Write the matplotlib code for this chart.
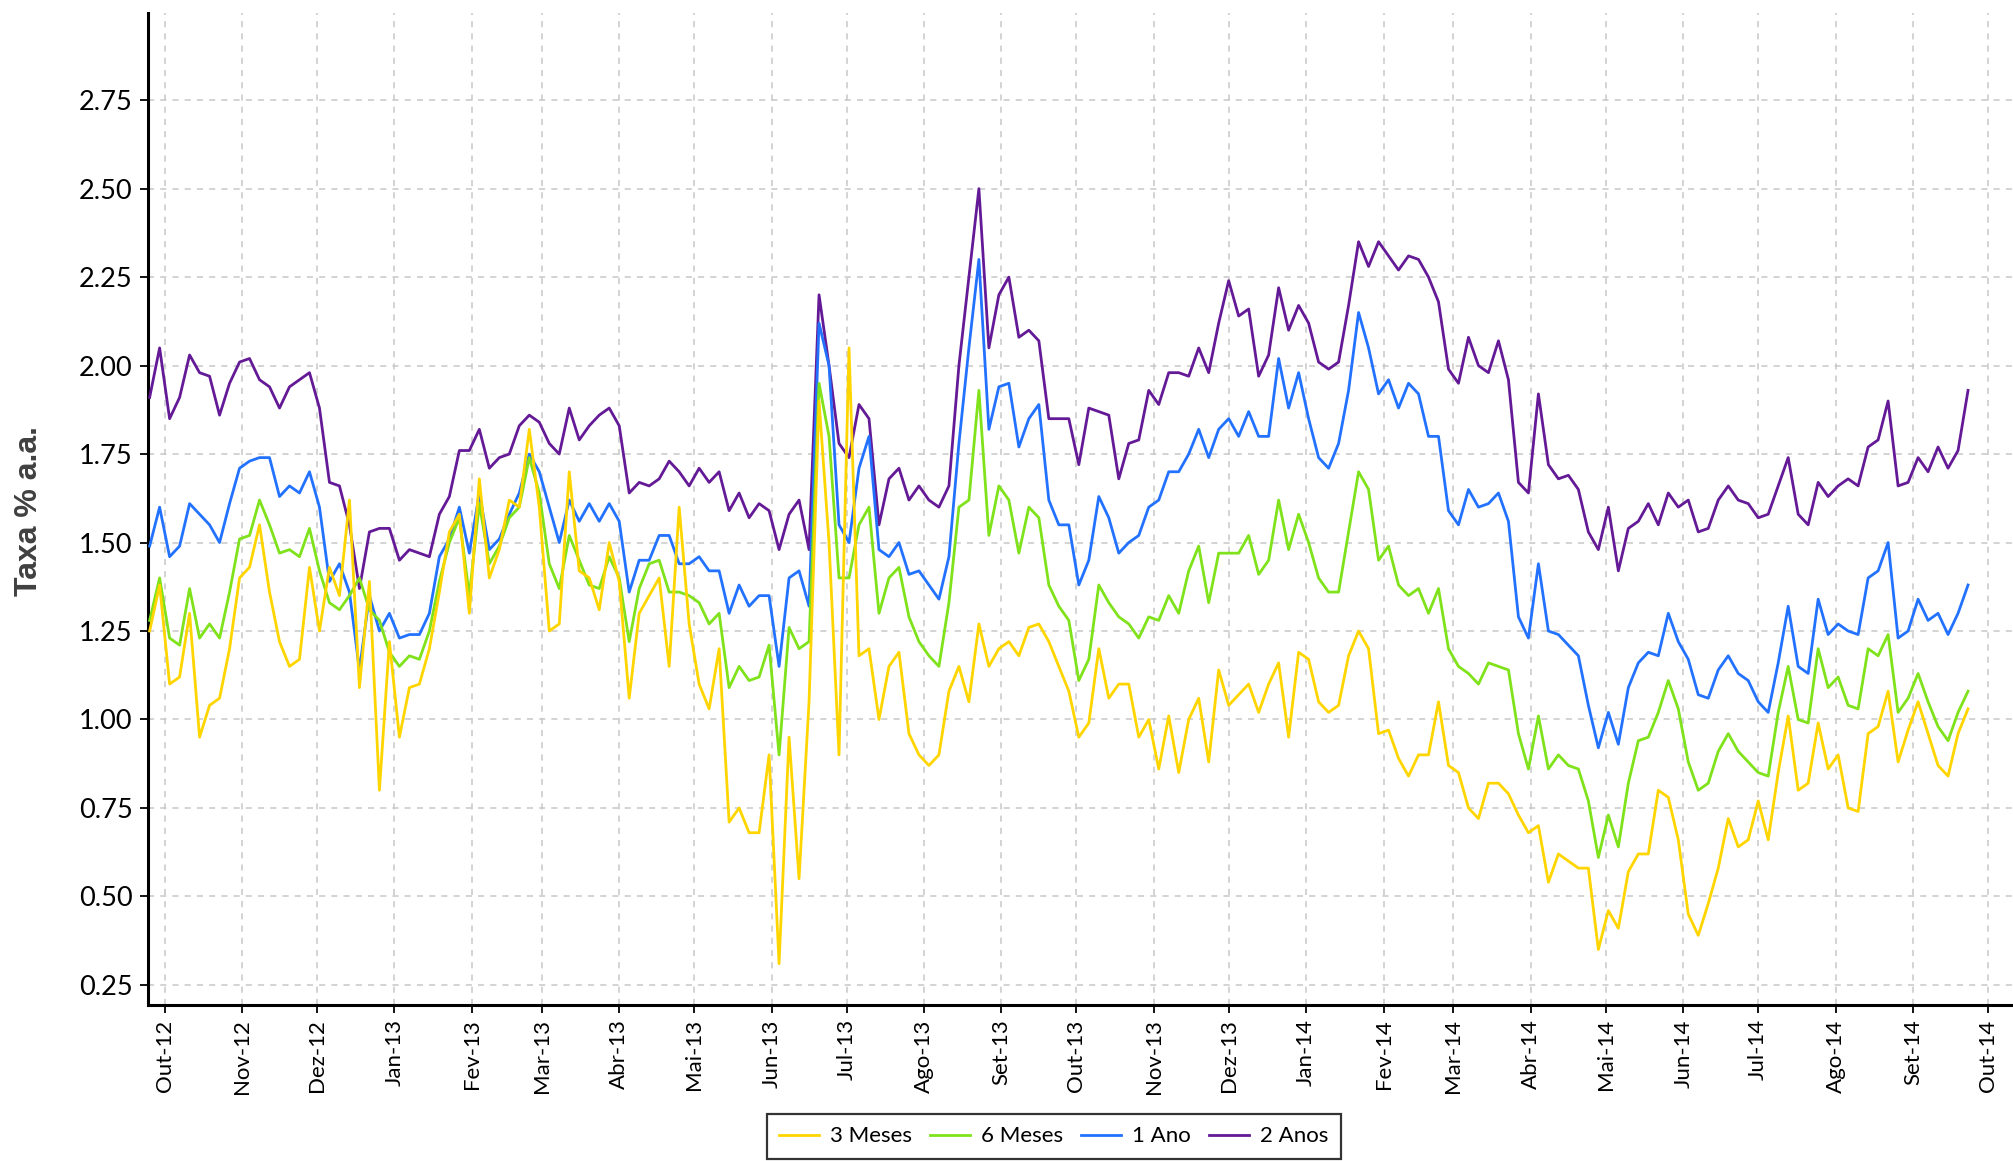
import matplotlib
matplotlib.use("Agg")
import matplotlib.pyplot as plt
import matplotlib.dates as mdates
import matplotlib.ticker as mticker
import pandas as pd
import numpy as np

# ---- data (one value every 4 calendar days) ----
dates = pd.date_range("2012-09-25", periods=183, freq="4D")

anos2 = [1.91, 2.05, 1.85, 1.91, 2.03, 1.98, 1.97, 1.86, 1.95, 2.01,
         2.02, 1.96, 1.94, 1.88, 1.94, 1.96, 1.98, 1.88, 1.67, 1.66,
         1.55, 1.37, 1.53, 1.54, 1.54, 1.45, 1.48, 1.47, 1.46, 1.58,
         1.63, 1.76, 1.76, 1.82, 1.71, 1.74, 1.75, 1.83, 1.86, 1.84,
         1.78, 1.75, 1.88, 1.79, 1.83, 1.86, 1.88, 1.83, 1.64, 1.67,
         1.66, 1.68, 1.73, 1.70, 1.66, 1.71, 1.67, 1.70, 1.59, 1.64,
         1.57, 1.61, 1.59, 1.48, 1.58, 1.62, 1.48, 2.20, 2.00, 1.78,
         1.74, 1.89, 1.85, 1.55, 1.68, 1.71, 1.62, 1.66, 1.62, 1.60,
         1.66, 2.00, 2.25, 2.50, 2.05, 2.20, 2.25, 2.08, 2.10, 2.07,
         1.85, 1.85, 1.85, 1.72, 1.88, 1.87, 1.86, 1.68, 1.78, 1.79,
         1.93, 1.89, 1.98, 1.98, 1.97, 2.05, 1.98, 2.12, 2.24, 2.14,
         2.16, 1.97, 2.03, 2.22, 2.10, 2.17, 2.12, 2.01, 1.99, 2.01,
         2.17, 2.35, 2.28, 2.35, 2.31, 2.27, 2.31, 2.30, 2.25, 2.18,
         1.99, 1.95, 2.08, 2.00, 1.98, 2.07, 1.96, 1.67, 1.64, 1.92,
         1.72, 1.68, 1.69, 1.65, 1.53, 1.48, 1.60, 1.42, 1.54, 1.56,
         1.61, 1.55, 1.64, 1.60, 1.62, 1.53, 1.54, 1.62, 1.66, 1.62,
         1.61, 1.57, 1.58, 1.66, 1.74, 1.58, 1.55, 1.67, 1.63, 1.66,
         1.68, 1.66, 1.77, 1.79, 1.90, 1.66, 1.67, 1.74, 1.70, 1.77,
         1.71, 1.76, 1.93]

ano1 = [1.49, 1.60, 1.46, 1.49, 1.61, 1.58, 1.55, 1.50, 1.61, 1.71,
        1.73, 1.74, 1.74, 1.63, 1.66, 1.64, 1.70, 1.60, 1.39, 1.44,
        1.36, 1.14, 1.35, 1.25, 1.30, 1.23, 1.24, 1.24, 1.30, 1.46,
        1.51, 1.60, 1.47, 1.64, 1.48, 1.51, 1.58, 1.64, 1.75, 1.70,
        1.60, 1.50, 1.62, 1.56, 1.61, 1.56, 1.61, 1.56, 1.36, 1.45,
        1.45, 1.52, 1.52, 1.44, 1.44, 1.46, 1.42, 1.42, 1.30, 1.38,
        1.32, 1.35, 1.35, 1.15, 1.40, 1.42, 1.32, 2.12, 2.00, 1.55,
        1.50, 1.71, 1.80, 1.48, 1.46, 1.50, 1.41, 1.42, 1.38, 1.34,
        1.46, 1.78, 2.05, 2.30, 1.82, 1.94, 1.95, 1.77, 1.85, 1.89,
        1.62, 1.55, 1.55, 1.38, 1.45, 1.63, 1.57, 1.47, 1.50, 1.52,
        1.60, 1.62, 1.70, 1.70, 1.75, 1.82, 1.74, 1.82, 1.85, 1.80,
        1.87, 1.80, 1.80, 2.02, 1.88, 1.98, 1.85, 1.74, 1.71, 1.78,
        1.93, 2.15, 2.05, 1.92, 1.96, 1.88, 1.95, 1.92, 1.80, 1.80,
        1.59, 1.55, 1.65, 1.60, 1.61, 1.64, 1.56, 1.29, 1.23, 1.44,
        1.25, 1.24, 1.21, 1.18, 1.04, 0.92, 1.02, 0.93, 1.09, 1.16,
        1.19, 1.18, 1.30, 1.22, 1.17, 1.07, 1.06, 1.14, 1.18, 1.13,
        1.11, 1.05, 1.02, 1.16, 1.32, 1.15, 1.13, 1.34, 1.24, 1.27,
        1.25, 1.24, 1.40, 1.42, 1.50, 1.23, 1.25, 1.34, 1.28, 1.30,
        1.24, 1.30, 1.38]

meses6 = [1.28, 1.40, 1.23, 1.21, 1.37, 1.23, 1.27, 1.23, 1.36, 1.51,
          1.52, 1.62, 1.55, 1.47, 1.48, 1.46, 1.54, 1.42, 1.33, 1.31,
          1.35, 1.40, 1.31, 1.28, 1.19, 1.15, 1.18, 1.17, 1.25, 1.39,
          1.50, 1.57, 1.35, 1.61, 1.44, 1.49, 1.57, 1.60, 1.74, 1.64,
          1.44, 1.37, 1.52, 1.45, 1.38, 1.37, 1.46, 1.40, 1.22, 1.37,
          1.44, 1.45, 1.36, 1.36, 1.35, 1.33, 1.27, 1.30, 1.09, 1.15,
          1.11, 1.12, 1.21, 0.90, 1.26, 1.20, 1.22, 1.95, 1.80, 1.40,
          1.40, 1.55, 1.60, 1.30, 1.40, 1.43, 1.29, 1.22, 1.18, 1.15,
          1.33, 1.60, 1.62, 1.93, 1.52, 1.66, 1.62, 1.47, 1.60, 1.57,
          1.38, 1.32, 1.28, 1.11, 1.17, 1.38, 1.33, 1.29, 1.27, 1.23,
          1.29, 1.28, 1.35, 1.30, 1.42, 1.49, 1.33, 1.47, 1.47, 1.47,
          1.52, 1.41, 1.45, 1.62, 1.48, 1.58, 1.50, 1.40, 1.36, 1.36,
          1.53, 1.70, 1.65, 1.45, 1.49, 1.38, 1.35, 1.37, 1.30, 1.37,
          1.20, 1.15, 1.13, 1.10, 1.16, 1.15, 1.14, 0.96, 0.86, 1.01,
          0.86, 0.90, 0.87, 0.86, 0.77, 0.61, 0.73, 0.64, 0.82, 0.94,
          0.95, 1.02, 1.11, 1.03, 0.88, 0.80, 0.82, 0.91, 0.96, 0.91,
          0.88, 0.85, 0.84, 1.02, 1.15, 1.00, 0.99, 1.20, 1.09, 1.12,
          1.04, 1.03, 1.20, 1.18, 1.24, 1.02, 1.06, 1.13, 1.05, 0.98,
          0.94, 1.02, 1.08]

meses3 = [1.25, 1.38, 1.10, 1.12, 1.30, 0.95, 1.04, 1.06, 1.20, 1.40,
          1.43, 1.55, 1.36, 1.22, 1.15, 1.17, 1.43, 1.25, 1.43, 1.35,
          1.62, 1.09, 1.39, 0.80, 1.22, 0.95, 1.09, 1.10, 1.20, 1.36,
          1.53, 1.58, 1.30, 1.68, 1.40, 1.48, 1.62, 1.60, 1.82, 1.60,
          1.25, 1.27, 1.70, 1.42, 1.40, 1.31, 1.50, 1.39, 1.06, 1.30,
          1.35, 1.40, 1.15, 1.60, 1.27, 1.10, 1.03, 1.20, 0.71, 0.75,
          0.68, 0.68, 0.90, 0.31, 0.95, 0.55, 1.05, 1.90, 1.50, 0.90,
          2.05, 1.18, 1.20, 1.00, 1.15, 1.19, 0.96, 0.90, 0.87, 0.90,
          1.08, 1.15, 1.05, 1.27, 1.15, 1.20, 1.22, 1.18, 1.26, 1.27,
          1.22, 1.15, 1.08, 0.95, 0.99, 1.20, 1.06, 1.10, 1.10, 0.95,
          1.00, 0.86, 1.01, 0.85, 1.00, 1.06, 0.88, 1.14, 1.04, 1.07,
          1.10, 1.02, 1.10, 1.16, 0.95, 1.19, 1.17, 1.05, 1.02, 1.04,
          1.18, 1.25, 1.20, 0.96, 0.97, 0.89, 0.84, 0.90, 0.90, 1.05,
          0.87, 0.85, 0.75, 0.72, 0.82, 0.82, 0.79, 0.73, 0.68, 0.70,
          0.54, 0.62, 0.60, 0.58, 0.58, 0.35, 0.46, 0.41, 0.57, 0.62,
          0.62, 0.80, 0.78, 0.66, 0.45, 0.39, 0.48, 0.58, 0.72, 0.64,
          0.66, 0.77, 0.66, 0.85, 1.01, 0.80, 0.82, 0.99, 0.86, 0.90,
          0.75, 0.74, 0.96, 0.98, 1.08, 0.88, 0.97, 1.05, 0.96, 0.87,
          0.84, 0.96, 1.03]

series_names = ["3 Meses", "6 Meses", "1 Ano", "2 Anos"]
series_values = [meses3, meses6, ano1, anos2]
series_colors = ["#FFD500", "#7FE21A", "#2272FF", "#641A96"]

month_abbr = ["Jan", "Fev", "Mar", "Abr", "Mai", "Jun",
              "Jul", "Ago", "Set", "Out", "Nov", "Dez"]
yticks = [0.25, 0.50, 0.75, 1.00, 1.25, 1.50, 1.75, 2.00, 2.25, 2.50, 2.75]

# ---- figure ----
plt.rcParams['font.family'] = ['Lato', 'DejaVu Sans']
fig = plt.figure(figsize=(20.13, 11.61), dpi=100)
ax = fig.add_axes([0.0735, 0.134, 0.9265, 0.855])

for k, (name, vals, col) in enumerate(zip(series_names, series_values, series_colors)):
    ax.plot(dates, vals, color=col, lw=2.0, label=name, zorder=10 - k)

ax.set_xlim(pd.Timestamp("2012-09-24 08:00"), pd.Timestamp("2014-10-11"))
ax.set_ylim(0.192, 2.997)

ax.xaxis.set_major_locator(mdates.MonthLocator())
ax.xaxis.set_major_formatter(mticker.FuncFormatter(
    lambda x, pos: "%s-%s" % (month_abbr[mdates.num2date(x).month - 1],
                              mdates.num2date(x).strftime("%y"))))
ax.set_yticks(yticks)
ax.yaxis.set_major_formatter(mticker.FormatStrFormatter("%.2f"))

for lbl in ax.get_xticklabels():
    lbl.set_rotation(90)
ax.tick_params(axis='both', direction='out', length=6, width=1.3,
               color='black', labelcolor='black')
ax.tick_params(axis='x', labelsize=16, pad=4)
ax.tick_params(axis='y', labelsize=19.5, pad=5)

for s in ['top', 'right']:
    ax.spines[s].set_visible(False)
for s in ['left', 'bottom']:
    ax.spines[s].set_linewidth(2.2)
    ax.spines[s].set_color('black')

ax.grid(True, which='major', linestyle=(0, (4, 4)), color='#c8c8c8', linewidth=1.1)
ax.set_axisbelow(True)

fig.text(0.0145, 0.56, "Taxa % a.a.", rotation=90, ha='center', va='center',
         fontsize=23, fontweight='bold', color='#404040', family='Liberation Sans')

leg = fig.legend(loc='upper center', bbox_to_anchor=(0.5235, 0.050), ncol=4,
                 frameon=True, fancybox=False, fontsize=16, handlelength=1.8,
                 columnspacing=0.8, handletextpad=0.5, borderpad=0.55)
leg.get_frame().set_edgecolor('black')
leg.get_frame().set_linewidth(1.6)

fig.savefig("out.png", dpi=100)
